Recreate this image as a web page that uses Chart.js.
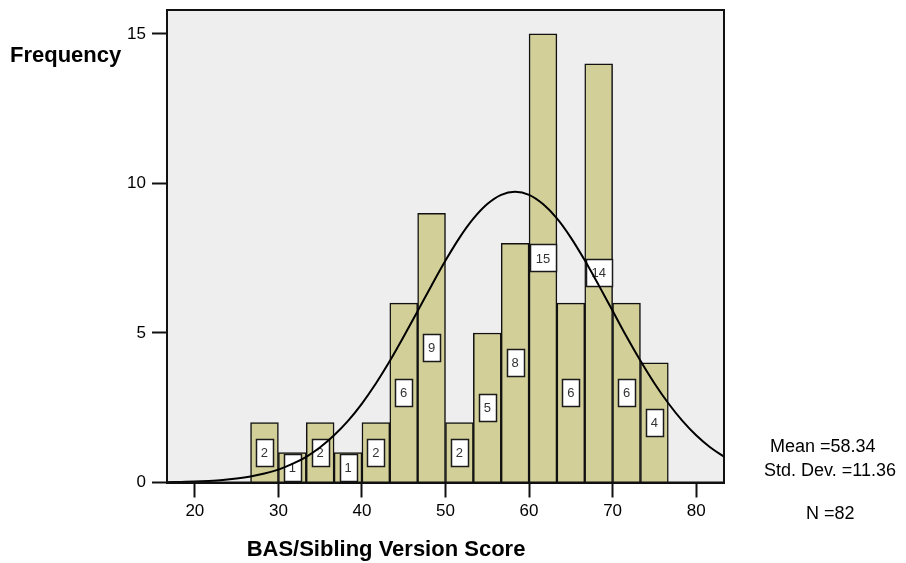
<!DOCTYPE html>
<html>
<head>
<meta charset="utf-8">
<script src="https://cdn.jsdelivr.net/npm/chart.js@4/dist/chart.umd.min.js"></script>
<style>
  html, body { margin: 0; padding: 0; background: #ffffff; }
  #wrap { width: 906px; height: 563px; position: relative; }
</style>
</head>
<body>
<div id="wrap"><canvas id="c" width="906" height="563"></canvas></div>
<script>
// Histogram bins (width 10/3) and their frequencies
const binCenters = [28.333, 31.667, 35, 38.333, 41.667, 45, 48.333, 51.667, 55, 58.333, 61.667, 65, 68.333, 71.667, 75];
const counts = [2, 1, 2, 1, 2, 6, 9, 2, 5, 8, 15, 6, 14, 6, 4];

// Fitted normal curve, sampled along the score axis
const curveX = [16.667, 18.333, 20, 21.667, 23.333, 25, 26.667, 28.333, 30, 31.667, 33.333, 35, 36.667, 38.333, 40,
                41.667, 43.333, 45, 46.667, 48.333, 50, 51.667, 53.333, 55, 56.667, 58.333, 60, 61.667, 63.333, 65,
                66.667, 68.333, 70, 71.667, 73.333, 75, 76.667, 78.333, 80, 81.667, 83.333];
const curveY = [0.01, 0.02, 0.03, 0.05, 0.08, 0.13, 0.20, 0.30, 0.43, 0.62, 0.86, 1.18, 1.58, 2.06, 2.64,
                3.31, 4.06, 4.88, 5.73, 6.59, 7.42, 8.18, 8.82, 9.31, 9.62, 9.72, 9.62, 9.31, 8.83, 8.19,
                7.43, 6.60, 5.74, 4.88, 4.07, 3.32, 2.65, 2.07, 1.58, 1.18, 0.86];

const xTicks = [20, 30, 40, 50, 60, 70, 80];
const yTicks = [0, 5, 10, 15];

const yTitle = 'Frequency';
const xTitle = 'BAS/Sibling Version Score';
const statLines = ['Mean =58.34', 'Std. Dev. =11.36', 'N =82'];

const FONT = '"Liberation Sans", Arial, Helvetica, sans-serif';

// Plot background and frame
const framePlugin = {
  id: 'frame',
  beforeDraw(chart) {
    const { ctx, chartArea: a } = chart;
    ctx.save();
    ctx.fillStyle = '#ffffff';
    ctx.fillRect(0, 0, chart.width, chart.height);
    ctx.fillStyle = '#eeeeee';
    ctx.fillRect(a.left, a.top, a.right - a.left, a.bottom - a.top);
    ctx.restore();
  },
  afterDraw(chart) {
    const { ctx, chartArea: a } = chart;
    ctx.save();
    ctx.strokeStyle = '#111111';
    ctx.lineWidth = 2;
    ctx.strokeRect(a.left, a.top, a.right - a.left, a.bottom - a.top);

    // Axis titles
    ctx.fillStyle = '#000000';
    ctx.font = 'bold 22px ' + FONT;
    ctx.textBaseline = 'alphabetic';
    ctx.textAlign = 'left';
    ctx.fillText(yTitle, 10, 62);
    ctx.textAlign = 'center';
    ctx.fillText(xTitle, 386, 556);

    // Summary statistics
    ctx.font = '18px ' + FONT;
    ctx.textAlign = 'left';
    ctx.fillText(statLines[0], 770, 452);
    ctx.fillText(statLines[1], 764, 476);
    ctx.fillText(statLines[2], 806, 519);
    ctx.restore();
  }
};

// Count boxes centred in each bar
const countLabels = {
  id: 'countLabels',
  afterDatasetDraw(chart, args) {
    if (args.index !== 0) return;
    const { ctx } = chart;
    const meta = chart.getDatasetMeta(0);
    ctx.save();
    ctx.font = '13px ' + FONT;
    ctx.textAlign = 'center';
    ctx.textBaseline = 'middle';
    meta.data.forEach((bar, i) => {
      const txt = String(counts[i]);
      const w = txt.length > 1 ? 26 : 17;
      const h = 27;
      const cy = (bar.y + bar.base) / 2;
      const x0 = Math.round(bar.x - w / 2) + 0.5;
      const y0 = Math.round(cy - h / 2) + 0.5;
      ctx.fillStyle = '#ffffff';
      ctx.fillRect(x0, y0, w, h);
      ctx.strokeStyle = '#1a1a1a';
      ctx.lineWidth = 1.5;
      ctx.strokeRect(x0, y0, w, h);
      ctx.fillStyle = '#333333';
      ctx.fillText(txt, bar.x, cy + 1);
    });
    ctx.restore();
  }
};

const axisCommon = {
  grid: { drawOnChartArea: false, offset: false, tickLength: 15, tickColor: '#111111', tickWidth: 2, color: '#111111' },
  border: { display: true, color: '#111111', width: 2 }
};

new Chart(document.getElementById('c'), {
  data: {
    datasets: [
      {
        type: 'bar',
        data: binCenters.map((x, i) => ({ x: x, y: counts[i] })),
        backgroundColor: '#d3cf98',
        borderColor: '#111111',
        borderWidth: 1.5,
        barPercentage: 1,
        categoryPercentage: 1,
        order: 2
      },
      {
        type: 'line',
        data: curveX.map((x, i) => ({ x: x, y: curveY[i] })),
        borderColor: '#000000',
        borderWidth: 2,
        pointRadius: 0,
        fill: false,
        cubicInterpolationMode: 'monotone',
        order: 1
      }
    ]
  },
  options: {
    responsive: false,
    animation: false,
    devicePixelRatio: 1,
    layout: { padding: { top: 10, right: 182, left: 0, bottom: 0 } },
    plugins: { legend: { display: false }, tooltip: { enabled: false } },
    scales: {
      x: {
        type: 'linear',
        min: 16.667,
        max: 83.333,
        offset: false,
        afterBuildTicks: s => { s.ticks = xTicks.map(v => ({ value: v })); },
        afterFit: s => { s.height = 80.5; s.paddingLeft = 0; s.paddingRight = 0; },
        ...axisCommon,
        ticks: { color: '#000000', font: { family: FONT, size: 17 }, padding: 4, maxRotation: 0, autoSkip: false }
      },
      y: {
        type: 'linear',
        min: 0,
        max: 15.8,
        afterBuildTicks: s => { s.ticks = yTicks.map(v => ({ value: v })); },
        afterFit: s => { s.width = 167; s.paddingTop = 0; s.paddingBottom = 0; },
        ...axisCommon,
        ticks: { color: '#000000', font: { family: FONT, size: 17 }, padding: 6, autoSkip: false }
      }
    }
  },
  plugins: [framePlugin, countLabels]
});
</script>
</body>
</html>
